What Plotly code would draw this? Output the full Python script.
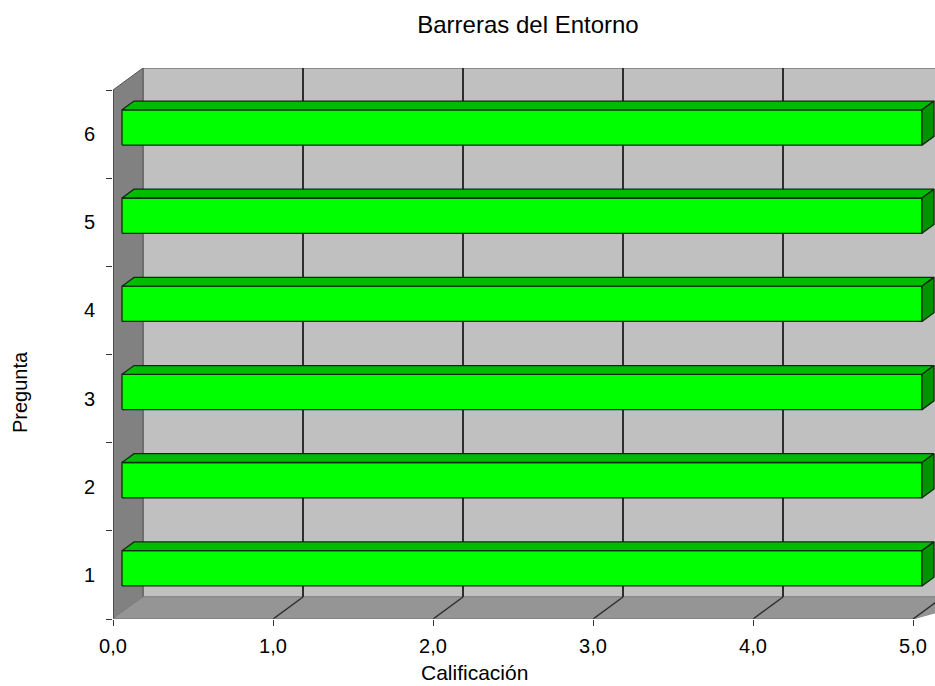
import plotly.graph_objects as go

# Chart data
preguntas = [1, 2, 3, 4, 5, 6]
calificacion = [5.0, 5.0, 5.0, 5.0, 5.0, 5.0]
x_ticks = [0, 1, 2, 3, 4, 5]
x_ticktext = ["0,0", "1,0", "2,0", "3,0", "4,0", "5,0"]

titulo = "Barreras del Entorno"
titulo_x = "Calificación"
titulo_y = "Pregunta"

# 3D look: offset of the back plane in axis units
DX = 0.1875   # horizontal shift per full depth
DY = 0.2495   # vertical shift per full depth
X_MAX = 5.0
Y_LO, Y_HI = 0.5, 6.5
BAR_H = 0.4          # bar thickness (gap width 150%)
D_FRONT, D_BACK = 0.3, 0.7   # bar depth slot

FONT = "Liberation Sans, Arial, sans-serif"


def p(x, y, d):
    """Project a point at depth d (0 front, 1 back)."""
    return x + d * DX, y + d * DY


def path(points):
    return "M " + " L ".join(f"{x},{y}" for x, y in points) + " Z"


shapes = []
# back wall
shapes.append(dict(type="path", xref="x", yref="y", layer="below",
                   path=path([p(0, Y_LO, 1), p(X_MAX + 0.3, Y_LO, 1),
                              p(X_MAX + 0.3, Y_HI, 1), p(0, Y_HI, 1)]),
                   fillcolor="#C0C0C0", line=dict(color="#7a7a7a", width=1.5)))
# left wall
shapes.append(dict(type="path", xref="x", yref="y", layer="below",
                   path=path([p(0, Y_LO, 0), p(0, Y_LO, 1), p(0, Y_HI, 1), p(0, Y_HI, 0)]),
                   fillcolor="#818181", line=dict(color="#555555", width=1)))
# floor
shapes.append(dict(type="path", xref="x", yref="y", layer="below",
                   path=path([p(0, Y_LO, 0), p(0, Y_LO, 1),
                              p(X_MAX + 0.3, Y_LO, 1), p(X_MAX, Y_LO, 0)]),
                   fillcolor="#959595", line=dict(color="#8a8a8a", width=1)))
# gridlines on back wall and floor
for v in x_ticks[1:]:
    x0, y0 = p(v, Y_LO, 1)
    x1, y1 = p(v, Y_HI, 1)
    shapes.append(dict(type="line", xref="x", yref="y", layer="below",
                       x0=x0, y0=y0, x1=x1, y1=y1,
                       line=dict(color="#2e2e2e", width=2)))
    xa, ya = p(v, Y_LO, 0)
    shapes.append(dict(type="line", xref="x", yref="y", layer="below",
                       x0=xa, y0=ya, x1=x0, y1=y0,
                       line=dict(color="#2e2e2e", width=1.5)))
# front axis lines
shapes.append(dict(type="line", xref="x", yref="y", layer="below",
                   x0=0, y0=Y_LO, x1=0, y1=Y_HI, line=dict(color="#333333", width=1)))
shapes.append(dict(type="line", xref="x", yref="y", layer="below",
                   x0=0, y0=Y_LO, x1=X_MAX, y1=Y_LO, line=dict(color="#777777", width=1)))

fig = go.Figure()

edge = dict(color="#0f2a0f", width=1.3)
for cat, val in zip(preguntas, calificacion):
    y0, y1 = cat - BAR_H / 2, cat + BAR_H / 2
    faces = [
        # front
        ([p(0, y0, D_FRONT), p(val, y0, D_FRONT), p(val, y1, D_FRONT), p(0, y1, D_FRONT)], "#00FF00"),
        # top
        ([p(0, y1, D_FRONT), p(val, y1, D_FRONT), p(val, y1, D_BACK), p(0, y1, D_BACK)], "#00BC00"),
        # right end
        ([p(val, y0, D_FRONT), p(val, y0, D_BACK), p(val, y1, D_BACK), p(val, y1, D_FRONT)], "#009400"),
    ]
    for pts, col in faces:
        xs = [a for a, _ in pts] + [pts[0][0]]
        ys = [b for _, b in pts] + [pts[0][1]]
        fig.add_trace(go.Scatter(x=xs, y=ys, mode="lines", fill="toself",
                                 fillcolor=col, line=edge, hoverinfo="skip",
                                 showlegend=False))

fig.update_layout(
    width=935, height=686,
    margin=dict(l=113, r=0, t=68, b=67),
    paper_bgcolor="white", plot_bgcolor="white",
    font=dict(family=FONT, size=20, color="#000000"),
    showlegend=False,
    shapes=shapes,
    title=dict(text=titulo, x=528 / 935, xanchor="center", xref="container",
               y=1 - 25 / 686, yanchor="middle", yref="container",
               font=dict(family=FONT, size=24, color="#000000")),
    xaxis=dict(range=[0, 822 / 160], showgrid=False, zeroline=False, showline=False,
               tickmode="array", tickvals=x_ticks, ticktext=x_ticktext,
               ticks="outside", ticklen=6, tickcolor="#333333", tickwidth=1,
               ticklabelstandoff=3, fixedrange=True),
    yaxis=dict(range=[Y_LO, Y_HI + DY], showgrid=False, zeroline=False, showline=False,
               tickmode="array", tickvals=preguntas, ticktext=[str(c) for c in preguntas],
               ticks="", ticklabelstandoff=17,
               minor=dict(tickmode="array", tickvals=[c - 0.5 for c in preguntas] + [Y_HI],
                          ticks="outside", ticklen=6, tickcolor="#333333", tickwidth=1),
               fixedrange=True),
    annotations=[
        dict(text=titulo_x, xref="paper", yref="paper", x=(474 - 113) / 822, y=-(672 - 619) / 551,
             xanchor="center", yanchor="middle", showarrow=False,
             font=dict(family=FONT, size=21)),
        dict(text=titulo_y, xref="paper", yref="paper", x=(20 - 113) / 822, y=(619 - 392) / 551,
             xanchor="center", yanchor="middle", showarrow=False, textangle=-90,
             font=dict(family=FONT, size=20)),
    ],
)

fig.write_html("out.html")
